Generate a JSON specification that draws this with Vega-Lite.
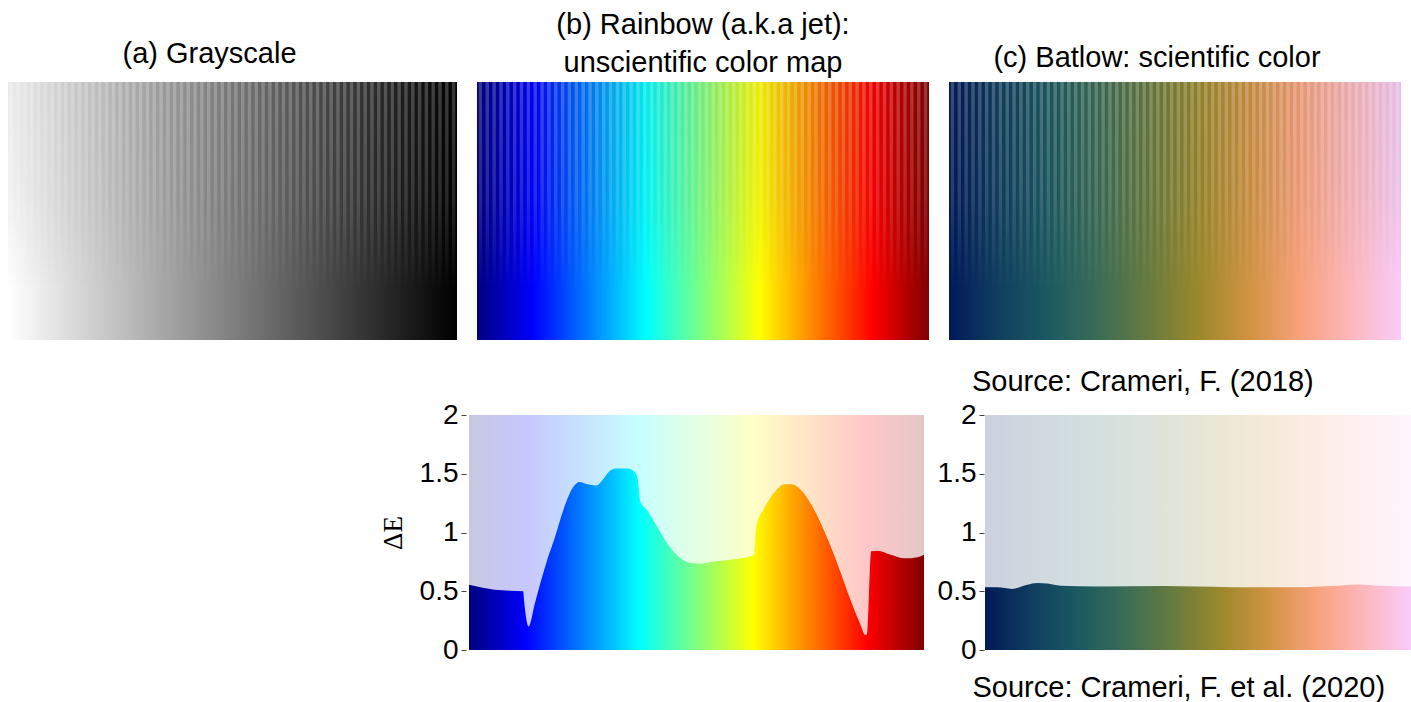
{
  "$schema": "https://vega.github.io/schema/vega-lite/v6.json",
  "background": "white",
  "padding": {"left": 8, "top": 11, "right": 0, "bottom": 0},
  "config": {
    "view": {"stroke": null},
    "font": "Liberation Sans",
    "title": {"font": "Liberation Sans", "fontSize": 29, "fontWeight": "normal", "color": "#000000", "anchor": "middle"},
    "axis": {"labelFont": "Liberation Sans", "labelFontSize": 28, "labelColor": "#000000", "tickColor": "#444444", "tickSize": 5, "domain": false, "grid": false, "labelPadding": 3}
  },
  "datasets": {
    "one": [{"k": 1}],
    "stripes": [{"i":0},{"i":1},{"i":2},{"i":3},{"i":4},{"i":5},{"i":6},{"i":7},{"i":8},{"i":9},{"i":10},{"i":11},{"i":12},{"i":13},{"i":14},{"i":15},{"i":16},{"i":17},{"i":18},{"i":19},{"i":20},{"i":21},{"i":22},{"i":23},{"i":24},{"i":25},{"i":26},{"i":27},{"i":28},{"i":29},{"i":30},{"i":31},{"i":32},{"i":33},{"i":34},{"i":35},{"i":36},{"i":37},{"i":38},{"i":39},{"i":40},{"i":41},{"i":42},{"i":43},{"i":44},{"i":45},{"i":46},{"i":47},{"i":48},{"i":49},{"i":50},{"i":51},{"i":52},{"i":53},{"i":54},{"i":55},{"i":56},{"i":57},{"i":58},{"i":59},{"i":60},{"i":61},{"i":62},{"i":63},{"i":64},{"i":65}],
    "jetDE": [
      {"x":0,"dE":0.556},{"x":0.03,"dE":0.53},{"x":0.056,"dE":0.513},{"x":0.09,"dE":0.505},{"x":0.119,"dE":0.5},{"x":0.121,"dE":0.42},{"x":0.131,"dE":0.2},{"x":0.145,"dE":0.4},{"x":0.158,"dE":0.585},{"x":0.173,"dE":0.78},{"x":0.188,"dE":0.95},{"x":0.209,"dE":1.21},{"x":0.228,"dE":1.38},{"x":0.242,"dE":1.43},{"x":0.261,"dE":1.41},{"x":0.279,"dE":1.4},{"x":0.294,"dE":1.45},{"x":0.308,"dE":1.52},{"x":0.323,"dE":1.545},{"x":0.349,"dE":1.545},{"x":0.365,"dE":1.51},{"x":0.371,"dE":1.45},{"x":0.376,"dE":1.27},{"x":0.393,"dE":1.18},{"x":0.415,"dE":1.04},{"x":0.437,"dE":0.9},{"x":0.459,"dE":0.8},{"x":0.488,"dE":0.74},{"x":0.51,"dE":0.735},{"x":0.532,"dE":0.75},{"x":0.576,"dE":0.77},{"x":0.62,"dE":0.8},{"x":0.627,"dE":0.81},{"x":0.631,"dE":1.05},{"x":0.649,"dE":1.21},{"x":0.671,"dE":1.34},{"x":0.693,"dE":1.41},{"x":0.708,"dE":1.41},{"x":0.73,"dE":1.36},{"x":0.752,"dE":1.24},{"x":0.781,"dE":1.01},{"x":0.81,"dE":0.73},{"x":0.84,"dE":0.41},{"x":0.862,"dE":0.2},{"x":0.87,"dE":0.13},{"x":0.875,"dE":0.13},{"x":0.884,"dE":0.84},{"x":0.898,"dE":0.845},{"x":0.927,"dE":0.81},{"x":0.957,"dE":0.78},{"x":0.986,"dE":0.79},{"x":1,"dE":0.81}
    ],
    "batlowDE": [
      {"x":0,"dE":0.533},{"x":0.029,"dE":0.533},{"x":0.064,"dE":0.52},{"x":0.099,"dE":0.555},{"x":0.123,"dE":0.57},{"x":0.146,"dE":0.565},{"x":0.178,"dE":0.547},{"x":0.264,"dE":0.54},{"x":0.42,"dE":0.544},{"x":0.577,"dE":0.535},{"x":0.734,"dE":0.533},{"x":0.812,"dE":0.544},{"x":0.875,"dE":0.558},{"x":0.93,"dE":0.547},{"x":1,"dE":0.54}
    ]
  },
  "vconcat": [
    {
      "hconcat": [
        {
          "width": 449, "height": 258,
          "title": {"text": "(a) Grayscale", "dx": -23, "offset": 13},
          "layer": [
            {"data": {"name": "one"}, "mark": {"type": "rect", "fill": {"gradient": "linear", "x1": 0, "y1": 0, "x2": 1, "y2": 0, "stops": [{"offset": 0, "color": "#ffffff"}, {"offset": 1, "color": "#000000"}]}},
             "encoding": {"x": {"value": 0}, "x2": {"value": "width"}, "y": {"value": 0}, "y2": {"value": "height"}}},
            {"data": {"name": "one"}, "mark": {"type": "rect", "fill": {"gradient": "linear", "x1": 0, "y1": 0, "x2": 0, "y2": 1, "stops": [{"offset": 0, "color": "rgba(0,0,0,0.08)"}, {"offset": 0.45, "color": "rgba(0,0,0,0.05)"}, {"offset": 0.8, "color": "rgba(0,0,0,0)"}, {"offset": 1, "color": "rgba(0,0,0,0)"}]}},
             "encoding": {"x": {"value": 0}, "x2": {"value": "width"}, "y": {"value": 0}, "y2": {"value": "height"}}},
            {"data": {"name": "stripes"}, "mark": {"type": "bar", "fill": {"gradient": "linear", "x1": 0, "y1": 0, "x2": 0, "y2": 1, "stops": [{"offset": 0, "color": "rgba(255,255,255,0.22)"}, {"offset": 0.45, "color": "rgba(255,255,255,0.14)"}, {"offset": 0.8, "color": "rgba(255,255,255,0)"}, {"offset": 1, "color": "rgba(255,255,255,0)"}]}},
             "encoding": {"x": {"field": "i", "type": "ordinal", "axis": null, "scale": {"paddingInner": 0.5, "paddingOuter": 0.25}}, "y": {"value": 0}, "y2": {"value": "height"}}}
          ]
        },
        {
          "width": 452, "height": 258,
          "title": {"text": ["(b) Rainbow (a.k.a jet):", "unscientific color map"], "lineHeight": 38, "offset": 4},
          "layer": [
            {"data": {"name": "one"}, "mark": {"type": "rect", "fill": {"gradient": "linear", "x1": 0, "y1": 0, "x2": 1, "y2": 0, "stops": [{"offset": 0, "color": "#000080"}, {"offset": 0.125, "color": "#0000ff"}, {"offset": 0.375, "color": "#00ffff"}, {"offset": 0.625, "color": "#ffff00"}, {"offset": 0.875, "color": "#ff0000"}, {"offset": 1, "color": "#800000"}]}},
             "encoding": {"x": {"value": 0}, "x2": {"value": "width"}, "y": {"value": 0}, "y2": {"value": "height"}}},
            {"data": {"name": "one"}, "mark": {"type": "rect", "fill": {"gradient": "linear", "x1": 0, "y1": 0, "x2": 0, "y2": 1, "stops": [{"offset": 0, "color": "rgba(0,0,0,0.08)"}, {"offset": 0.45, "color": "rgba(0,0,0,0.05)"}, {"offset": 0.8, "color": "rgba(0,0,0,0)"}, {"offset": 1, "color": "rgba(0,0,0,0)"}]}},
             "encoding": {"x": {"value": 0}, "x2": {"value": "width"}, "y": {"value": 0}, "y2": {"value": "height"}}},
            {"data": {"name": "stripes"}, "mark": {"type": "bar", "fill": {"gradient": "linear", "x1": 0, "y1": 0, "x2": 0, "y2": 1, "stops": [{"offset": 0, "color": "rgba(255,255,255,0.22)"}, {"offset": 0.45, "color": "rgba(255,255,255,0.14)"}, {"offset": 0.8, "color": "rgba(255,255,255,0)"}, {"offset": 1, "color": "rgba(255,255,255,0)"}]}},
             "encoding": {"x": {"field": "i", "type": "ordinal", "axis": null, "scale": {"paddingInner": 0.5, "paddingOuter": 0.25}}, "y": {"value": 0}, "y2": {"value": "height"}}}
          ]
        },
        {
          "width": 452, "height": 258,
          "title": {"text": "(c) Batlow: scientific color", "dx": -18, "offset": 9},
          "layer": [
            {"data": {"name": "one"}, "mark": {"type": "rect", "fill": {"gradient": "linear", "x1": 0, "y1": 0, "x2": 1, "y2": 0, "stops": [{"offset": 0, "color": "#011959"}, {"offset": 0.111, "color": "#103f60"}, {"offset": 0.222, "color": "#1c5a62"}, {"offset": 0.333, "color": "#3c6d56"}, {"offset": 0.444, "color": "#687b3e"}, {"offset": 0.556, "color": "#9d892b"}, {"offset": 0.667, "color": "#d29343"}, {"offset": 0.778, "color": "#f8a17b"}, {"offset": 0.889, "color": "#fdb7bc"}, {"offset": 1, "color": "#faccfa"}]}},
             "encoding": {"x": {"value": 0}, "x2": {"value": "width"}, "y": {"value": 0}, "y2": {"value": "height"}}},
            {"data": {"name": "one"}, "mark": {"type": "rect", "fill": {"gradient": "linear", "x1": 0, "y1": 0, "x2": 0, "y2": 1, "stops": [{"offset": 0, "color": "rgba(0,0,0,0.08)"}, {"offset": 0.45, "color": "rgba(0,0,0,0.05)"}, {"offset": 0.8, "color": "rgba(0,0,0,0)"}, {"offset": 1, "color": "rgba(0,0,0,0)"}]}},
             "encoding": {"x": {"value": 0}, "x2": {"value": "width"}, "y": {"value": 0}, "y2": {"value": "height"}}},
            {"data": {"name": "stripes"}, "mark": {"type": "bar", "fill": {"gradient": "linear", "x1": 0, "y1": 0, "x2": 0, "y2": 1, "stops": [{"offset": 0, "color": "rgba(255,255,255,0.22)"}, {"offset": 0.45, "color": "rgba(255,255,255,0.14)"}, {"offset": 0.8, "color": "rgba(255,255,255,0)"}, {"offset": 1, "color": "rgba(255,255,255,0)"}]}},
             "encoding": {"x": {"field": "i", "type": "ordinal", "axis": null, "scale": {"paddingInner": 0.5, "paddingOuter": 0.25}}, "y": {"value": 0}, "y2": {"value": "height"}}}
          ]
        }
      ],
      "spacing": 20
    },
    {
      "hconcat": [
        {
          "width": 358, "height": 235,
          "data": {"name": "one"},
          "mark": {"type": "point", "opacity": 0}
        },
        {
          "width": 455, "height": 235,
          "layer": [
            {"data": {"name": "one"}, "mark": {"type": "rect", "opacity": 0.22, "fill": {"gradient": "linear", "x1": 0, "y1": 0, "x2": 1, "y2": 0, "stops": [{"offset": 0, "color": "#000080"}, {"offset": 0.125, "color": "#0000ff"}, {"offset": 0.375, "color": "#00ffff"}, {"offset": 0.625, "color": "#ffff00"}, {"offset": 0.875, "color": "#ff0000"}, {"offset": 1, "color": "#800000"}]}},
             "encoding": {"x": {"value": 0}, "x2": {"value": "width"}, "y": {"value": 0}, "y2": {"value": "height"}}},
            {"data": {"name": "jetDE"}, "mark": {"type": "area", "interpolate": "monotone", "fill": {"gradient": "linear", "x1": 0, "y1": 0, "x2": 1, "y2": 0, "stops": [{"offset": 0, "color": "#000080"}, {"offset": 0.125, "color": "#0000ff"}, {"offset": 0.375, "color": "#00ffff"}, {"offset": 0.625, "color": "#ffff00"}, {"offset": 0.875, "color": "#ff0000"}, {"offset": 1, "color": "#800000"}]}},
             "encoding": {
               "x": {"field": "x", "type": "quantitative", "scale": {"domain": [0, 1], "nice": false}, "axis": null},
               "y": {"field": "dE", "type": "quantitative", "scale": {"domain": [0, 2], "nice": false},
                     "axis": {"values": [0, 0.5, 1, 1.5, 2], "format": "~g", "offset": 3, "labelFlush": false, "title": "ΔE", "titleFont": "Liberation Serif", "titleFontSize": 27, "titleFontWeight": "normal", "titleColor": "#000000", "titlePadding": 12}}
             }}
          ]
        },
        {
          "width": 426, "height": 235,
          "title": {"text": "Source: Crameri, F. (2018)", "anchor": "start", "frame": "group", "dx": -13, "offset": 4},
          "layer": [
            {"data": {"name": "one"}, "mark": {"type": "rect", "opacity": 0.2, "fill": {"gradient": "linear", "x1": 0, "y1": 0, "x2": 1, "y2": 0, "stops": [{"offset": 0, "color": "#011959"}, {"offset": 0.111, "color": "#103f60"}, {"offset": 0.222, "color": "#1c5a62"}, {"offset": 0.333, "color": "#3c6d56"}, {"offset": 0.444, "color": "#687b3e"}, {"offset": 0.556, "color": "#9d892b"}, {"offset": 0.667, "color": "#d29343"}, {"offset": 0.778, "color": "#f8a17b"}, {"offset": 0.889, "color": "#fdb7bc"}, {"offset": 1, "color": "#faccfa"}]}},
             "encoding": {"x": {"value": 0}, "x2": {"value": "width"}, "y": {"value": 0}, "y2": {"value": "height"}}},
            {"data": {"name": "batlowDE"}, "mark": {"type": "area", "interpolate": "monotone", "fill": {"gradient": "linear", "x1": 0, "y1": 0, "x2": 1, "y2": 0, "stops": [{"offset": 0, "color": "#011959"}, {"offset": 0.111, "color": "#103f60"}, {"offset": 0.222, "color": "#1c5a62"}, {"offset": 0.333, "color": "#3c6d56"}, {"offset": 0.444, "color": "#687b3e"}, {"offset": 0.556, "color": "#9d892b"}, {"offset": 0.667, "color": "#d29343"}, {"offset": 0.778, "color": "#f8a17b"}, {"offset": 0.889, "color": "#fdb7bc"}, {"offset": 1, "color": "#faccfa"}]}},
             "encoding": {
               "x": {"field": "x", "type": "quantitative", "scale": {"domain": [0, 1], "nice": false},
                     "axis": {"labels": false, "ticks": false, "domain": false, "title": "Source: Crameri, F. et al. (2020)", "titleFont": "Liberation Sans", "titleFontSize": 29, "titleFontWeight": "normal", "titleColor": "#000000", "titleAlign": "left", "titleBaseline": "alphabetic", "titleX": -13, "titleY": 46}},
               "y": {"field": "dE", "type": "quantitative", "scale": {"domain": [0, 2], "nice": false},
                     "axis": {"values": [0, 0.5, 1, 1.5, 2], "format": "~g", "offset": 1, "labelFlush": false, "title": null}}
             }}
          ]
        }
      ],
      "spacing": 13
    }
  ],
  "spacing": 28
}
